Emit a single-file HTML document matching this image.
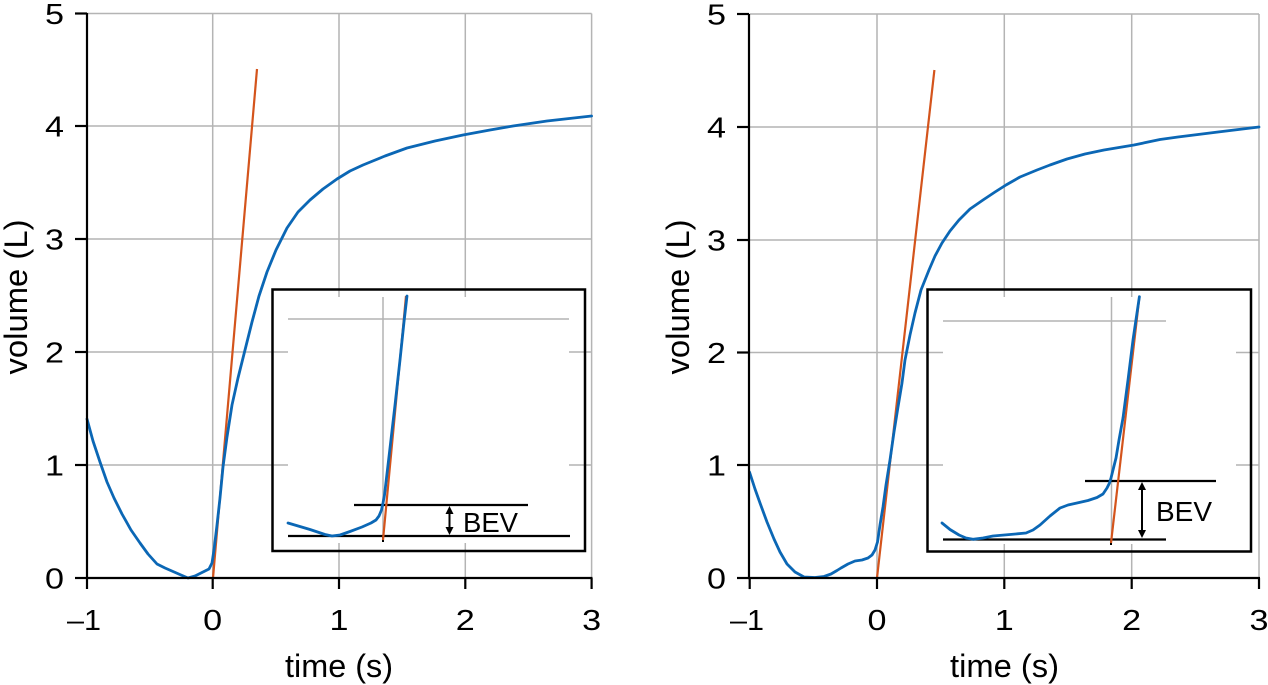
<!DOCTYPE html>
<html>
<head>
<meta charset="utf-8">
<style>
  html, body { margin: 0; padding: 0; background: #ffffff; }
  svg { display: block; }
  text { font-family: "Liberation Sans", Arial, Helvetica, sans-serif; fill: #000; }
</style>
</head>
<body>
<svg width="1268" height="685" viewBox="0 0 1268 685" xmlns="http://www.w3.org/2000/svg">
  <rect x="0" y="0" width="1268" height="685" fill="#ffffff"/>

  <!-- ================= LEFT PLOT ================= -->
  <g stroke="#b4b4b4" stroke-width="1.5" fill="none">
    <line x1="87" y1="13.5" x2="591.6" y2="13.5"/>
    <line x1="87" y1="126" x2="591.6" y2="126"/>
    <line x1="87" y1="239" x2="591.6" y2="239"/>
    <line x1="87" y1="352" x2="591.6" y2="352"/>
    <line x1="87" y1="465" x2="591.6" y2="465"/>
    <line x1="212.7" y1="13.5" x2="212.7" y2="578"/>
    <line x1="339" y1="13.5" x2="339" y2="578"/>
    <line x1="465.3" y1="13.5" x2="465.3" y2="578"/>
    <line x1="591.6" y1="13.5" x2="591.6" y2="578"/>
  </g>

  <line x1="213" y1="578" x2="257" y2="69" stroke="#d4541c" stroke-width="2.2"/>
  <polyline fill="none" stroke="#0b67b5" stroke-width="2.8" stroke-linejoin="round" stroke-linecap="round"
    points="87,419 93,441 100,462 107,482 114,498 122,514 131,530 140,543 148,554 157,564 165,568 173,571.5 181,575 188,578 195,576 202,572.5 209,569 212,563 214,550 217,525 220,498 223,467 227,437 232,405 238,378 245,350 252,322 259,296 267,272 276,250 287,228 298,212 310,200 323,189 337,179 350,171 363,165 385,156 407,148 435,141 463,135 490,130 513,126 547,121 591.6,116"/>

  <g stroke="#000" stroke-width="2.2" fill="none">
    <line x1="87" y1="13" x2="87" y2="579"/>
    <line x1="86" y1="578" x2="592.5" y2="578"/>
    <line x1="75" y1="13.5" x2="87" y2="13.5"/>
    <line x1="75" y1="126" x2="87" y2="126"/>
    <line x1="75" y1="239" x2="87" y2="239"/>
    <line x1="75" y1="352" x2="87" y2="352"/>
    <line x1="75" y1="465" x2="87" y2="465"/>
    <line x1="75" y1="578" x2="87" y2="578"/>
    <line x1="87" y1="578" x2="87" y2="589"/>
    <line x1="212.7" y1="578" x2="212.7" y2="589"/>
    <line x1="339" y1="578" x2="339" y2="589"/>
    <line x1="465.3" y1="578" x2="465.3" y2="589"/>
    <line x1="591.6" y1="578" x2="591.6" y2="589"/>
  </g>

  <g font-size="29" text-anchor="end">
    <text x="64" y="24" textLength="19" lengthAdjust="spacingAndGlyphs">5</text>
    <text x="64" y="136.5" textLength="19" lengthAdjust="spacingAndGlyphs">4</text>
    <text x="64" y="249.5" textLength="19" lengthAdjust="spacingAndGlyphs">3</text>
    <text x="64" y="362.5" textLength="19" lengthAdjust="spacingAndGlyphs">2</text>
    <text x="64" y="475.5" textLength="19" lengthAdjust="spacingAndGlyphs">1</text>
    <text x="64" y="588.5" textLength="19" lengthAdjust="spacingAndGlyphs">0</text>
  </g>
  <g font-size="29" text-anchor="middle">
    <text x="84" y="630" textLength="34" lengthAdjust="spacingAndGlyphs">–1</text>
    <text x="212.7" y="630" textLength="19" lengthAdjust="spacingAndGlyphs">0</text>
    <text x="339" y="630" textLength="19" lengthAdjust="spacingAndGlyphs">1</text>
    <text x="465.3" y="630" textLength="19" lengthAdjust="spacingAndGlyphs">2</text>
    <text x="591.6" y="630" textLength="19" lengthAdjust="spacingAndGlyphs">3</text>
  </g>
  <text x="339" y="677" font-size="32" text-anchor="middle" textLength="108" lengthAdjust="spacingAndGlyphs">time (s)</text>
  <text transform="translate(27,297) rotate(-90)" font-size="32" text-anchor="middle" textLength="155" lengthAdjust="spacingAndGlyphs">volume (L)</text>

  <!-- left inset -->
  <rect x="288" y="297" width="281" height="246" fill="#ffffff"/>
  <rect x="272.5" y="289.5" width="312.5" height="261.5" fill="none" stroke="#000" stroke-width="2.5"/>
  <line x1="288" y1="319" x2="569" y2="319" stroke="#b4b4b4" stroke-width="1.5"/>
  <line x1="383" y1="297" x2="383" y2="536" stroke="#b4b4b4" stroke-width="1.5"/>
  <line x1="288" y1="536" x2="570" y2="536" stroke="#000" stroke-width="2.2"/>
  <line x1="354" y1="505" x2="528" y2="505" stroke="#000" stroke-width="2.2"/>
  <line x1="383" y1="536" x2="383" y2="542" stroke="#000" stroke-width="2"/>
  <line x1="383" y1="540" x2="406" y2="296" stroke="#d4541c" stroke-width="2.2"/>
  <polyline fill="none" stroke="#0b67b5" stroke-width="2.8" stroke-linejoin="round" stroke-linecap="round"
    points="288,523 310,529.5 325,534.5 332,536 340,535 350,531.5 362,527 371,523 376,520 379,516 381.5,510 383,503 384.5,495 390,448 395,405 400,360 404,322 407,296"/>
  <line x1="449.5" y1="510" x2="449.5" y2="531" stroke="#000" stroke-width="2"/>
  <polygon points="449.5,506 445.5,514 453.5,514" fill="#000"/>
  <polygon points="449.5,535 445.5,527 453.5,527" fill="#000"/>
  <text x="463" y="532" font-size="28" textLength="55" lengthAdjust="spacingAndGlyphs">BEV</text>

  <!-- ================= RIGHT PLOT ================= -->
  <g stroke="#b4b4b4" stroke-width="1.5" fill="none">
    <line x1="749.5" y1="14" x2="1259" y2="14"/>
    <line x1="749.5" y1="127" x2="1259" y2="127"/>
    <line x1="749.5" y1="240" x2="1259" y2="240"/>
    <line x1="749.5" y1="352.5" x2="1259" y2="352.5"/>
    <line x1="749.5" y1="465" x2="1259" y2="465"/>
    <line x1="877" y1="14" x2="877" y2="578"/>
    <line x1="1004.3" y1="14" x2="1004.3" y2="578"/>
    <line x1="1131.7" y1="14" x2="1131.7" y2="578"/>
    <line x1="1259" y1="14" x2="1259" y2="578"/>
  </g>

  <line x1="877" y1="578" x2="934.4" y2="70" stroke="#d4541c" stroke-width="2.2"/>
  <polyline fill="none" stroke="#0b67b5" stroke-width="2.8" stroke-linejoin="round" stroke-linecap="round"
    points="749.5,472 755,489 760,503 767,522 774,539 780,552 787,564 795,572 804,577 815,577.5 824,576.5 831,574 837,570.5 841,568 848,564 855,561 862,560 868,558 872,555 875,550 877.5,542 880,525 883,507 886,485 890,460 894,432 898,407 902,383 905,360 910,335 915,313 921,290 929,270 935,256 942,243 950,231 959,220 970,209 983,200 995,192 1006,185 1020,177 1037,170 1050,165 1067,159 1085,154 1104,150 1134,145 1160,139.5 1178,137 1218,132 1259,127"/>

  <g stroke="#000" stroke-width="2.2" fill="none">
    <line x1="749" y1="14" x2="749" y2="579"/>
    <line x1="748" y1="578" x2="1260" y2="578"/>
    <line x1="737" y1="14" x2="749" y2="14"/>
    <line x1="737" y1="127" x2="749" y2="127"/>
    <line x1="737" y1="240" x2="749" y2="240"/>
    <line x1="737" y1="352.5" x2="749" y2="352.5"/>
    <line x1="737" y1="465" x2="749" y2="465"/>
    <line x1="737" y1="578" x2="749" y2="578"/>
    <line x1="749.7" y1="578" x2="749.7" y2="589"/>
    <line x1="877" y1="578" x2="877" y2="589"/>
    <line x1="1004.3" y1="578" x2="1004.3" y2="589"/>
    <line x1="1131.7" y1="578" x2="1131.7" y2="589"/>
    <line x1="1259" y1="578" x2="1259" y2="589"/>
  </g>

  <g font-size="29" text-anchor="end">
    <text x="726" y="24.5" textLength="19" lengthAdjust="spacingAndGlyphs">5</text>
    <text x="726" y="137.5" textLength="19" lengthAdjust="spacingAndGlyphs">4</text>
    <text x="726" y="250.5" textLength="19" lengthAdjust="spacingAndGlyphs">3</text>
    <text x="726" y="363" textLength="19" lengthAdjust="spacingAndGlyphs">2</text>
    <text x="726" y="475.5" textLength="19" lengthAdjust="spacingAndGlyphs">1</text>
    <text x="726" y="588.5" textLength="19" lengthAdjust="spacingAndGlyphs">0</text>
  </g>
  <g font-size="29" text-anchor="middle">
    <text x="747" y="630" textLength="34" lengthAdjust="spacingAndGlyphs">–1</text>
    <text x="877" y="630" textLength="19" lengthAdjust="spacingAndGlyphs">0</text>
    <text x="1004.3" y="630" textLength="19" lengthAdjust="spacingAndGlyphs">1</text>
    <text x="1131.7" y="630" textLength="19" lengthAdjust="spacingAndGlyphs">2</text>
    <text x="1259" y="630" textLength="19" lengthAdjust="spacingAndGlyphs">3</text>
  </g>
  <text x="1004.5" y="677" font-size="32" text-anchor="middle" textLength="109" lengthAdjust="spacingAndGlyphs">time (s)</text>
  <text transform="translate(689,297) rotate(-90)" font-size="32" text-anchor="middle" textLength="155" lengthAdjust="spacingAndGlyphs">volume (L)</text>

  <!-- right inset -->
  <rect x="943" y="297" width="293" height="247" fill="#ffffff"/>
  <rect x="927.5" y="289.5" width="323.5" height="262" fill="none" stroke="#000" stroke-width="2.5"/>
  <line x1="943" y1="321" x2="1166" y2="321" stroke="#b4b4b4" stroke-width="1.5"/>
  <line x1="1111.5" y1="297" x2="1111.5" y2="539" stroke="#b4b4b4" stroke-width="1.5"/>
  <line x1="943" y1="539.5" x2="1166" y2="539.5" stroke="#000" stroke-width="2.2"/>
  <line x1="1085" y1="481" x2="1216" y2="481" stroke="#000" stroke-width="2.2"/>
  <line x1="1111" y1="539" x2="1111" y2="545" stroke="#000" stroke-width="2"/>
  <line x1="1111" y1="543" x2="1139.4" y2="297" stroke="#d4541c" stroke-width="2.2"/>
  <polyline fill="none" stroke="#0b67b5" stroke-width="2.8" stroke-linejoin="round" stroke-linecap="round"
    points="942,523 950,529.5 959,535 966,538 973,539.3 983,538 993,536 1010,534.5 1026,533 1033,530 1040,525 1050,516 1060,508 1068,505 1077,503 1088,500.5 1097,497.5 1103,494 1107,488 1109.5,483 1111,478 1113,470 1116,458 1119,440 1123,418 1128,380 1133,340 1139.4,296.7"/>
  <line x1="1142" y1="486" x2="1142" y2="534" stroke="#000" stroke-width="2"/>
  <polygon points="1142,482 1138,490 1146,490" fill="#000"/>
  <polygon points="1142,538 1138,530 1146,530" fill="#000"/>
  <text x="1156" y="521" font-size="28" textLength="56" lengthAdjust="spacingAndGlyphs">BEV</text>
</svg>
</body>
</html>
